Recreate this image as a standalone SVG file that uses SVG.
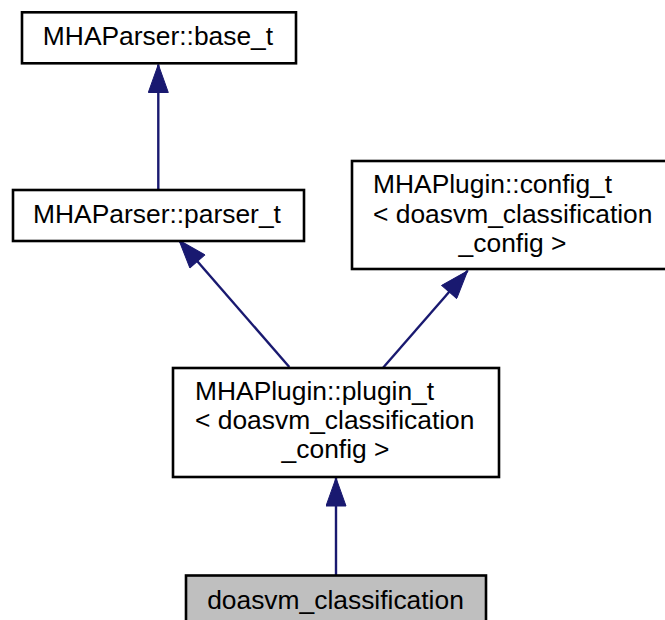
<svg xmlns="http://www.w3.org/2000/svg" width="665" height="620" viewBox="0 0 665 620">
<style>
.box{fill:#ffffff;stroke:#000000;stroke-width:2.6}
.cur{fill:#bfbfbf;stroke:#000000;stroke-width:2.6}
.lbl{font-family:"Liberation Sans",Arial,Helvetica,sans-serif;font-size:26.4px;fill:#000000}
.mid{text-anchor:middle}
.edge{fill:none;stroke:#191970;stroke-width:2.4}
</style>
<defs>
<marker id="arr" markerUnits="userSpaceOnUse" viewBox="-29 -10.5 30 21" markerWidth="30" markerHeight="21" refX="0" refY="0" orient="auto-start-reverse">
<path d="M-28,-10 L0,0 L-28,10 Z" fill="#191970" stroke="#191970" stroke-width="1"/>
</marker>
</defs>
<rect width="665" height="620" fill="#ffffff"/>
<g id="edges">
<path class="edge" d="M158.3,64.5 L158.3,190" marker-start="url(#arr)"/>
<path class="edge" d="M179,240.2 L289.3,367" marker-start="url(#arr)"/>
<path class="edge" d="M467.6,270.8 L383.3,367.5" marker-start="url(#arr)"/>
<path class="edge" d="M336,478 L336,575" marker-start="url(#arr)"/>
</g>
<g id="node_base">
<rect class="box" x="22" y="12.3" width="274" height="51"/>
<text class="lbl mid" x="158" y="44.5">MHAParser::base_t</text>
</g>
<g id="node_parser">
<rect class="box" x="13" y="190" width="291" height="51"/>
<text class="lbl mid" x="157" y="222.5">MHAParser::parser_t</text>
</g>
<g id="node_config">
<rect class="box" x="352" y="161" width="320" height="108"/>
<text class="lbl" x="373" y="193">MHAPlugin::config_t</text>
<text class="lbl" x="373" y="222.5">&lt; doasvm_classification</text>
<text class="lbl mid" x="512.5" y="251.5">_config &gt;</text>
</g>
<g id="node_plugin">
<rect class="box" x="173" y="368" width="326" height="109"/>
<text class="lbl" x="195" y="400">MHAPlugin::plugin_t</text>
<text class="lbl" x="195" y="429">&lt; doasvm_classification</text>
<text class="lbl mid" x="335.5" y="458">_config &gt;</text>
</g>
<g id="node_doasvm">
<rect class="cur" x="186" y="575.5" width="300" height="50"/>
<text class="lbl mid" x="335.5" y="608.5">doasvm_classification</text>
</g>
</svg>
